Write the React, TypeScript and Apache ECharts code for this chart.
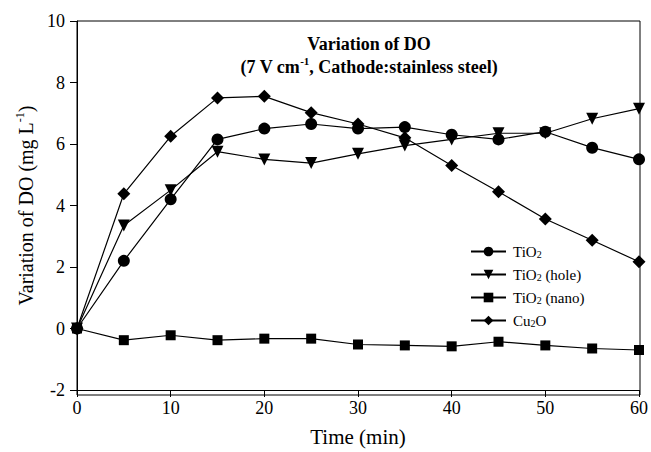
import React, { useEffect, useRef } from "react";
import * as echarts from "echarts";

const times = [0, 5, 10, 15, 20, 25, 30, 35, 40, 45, 50, 55, 60];
const tio2 = [0, 2.2, 4.2, 6.15, 6.5, 6.65, 6.5, 6.55, 6.3, 6.15, 6.4, 5.88, 5.5];
const tio2Hole = [0, 3.35, 4.5, 5.75, 5.5, 5.38, 5.68, 5.95, 6.15, 6.35, 6.35, 6.82, 7.15];
const tio2Nano = [0, -0.38, -0.22, -0.38, -0.33, -0.33, -0.52, -0.55, -0.58, -0.43, -0.55, -0.65, -0.7];
const cu2o = [0, 4.38, 6.25, 7.5, 7.55, 7.02, 6.65, 6.2, 5.3, 4.45, 3.56, 2.87, 2.17];

const seriesNames = ["TiO2", "TiO2 (hole)", "TiO2 (nano)", "Cu2O"];
const legendLabels = [
  "{n|TiO}{sub|2}",
  "{n|TiO}{sub|2}{n| (hole)}",
  "{n|TiO}{sub|2}{n| (nano)}",
  "{n|Cu}{sub|2}{n|O}",
];

const FONT = "'Liberation Serif', 'Times New Roman', serif";

export default function App() {
  const ref = useRef<HTMLDivElement>(null);
  useEffect(() => {
    if (!ref.current) return;
    const chart = echarts.init(ref.current, undefined, { renderer: "svg" });
    const mk = (vals: number[]) => times.map((t, i) => [t, vals[i]]);
    const baseSeries = (name: string, data: number[], symbol: string, size: number, rotate = 0) => ({
      name,
      type: "line",
      data: mk(data),
      symbol,
      symbolSize: size,
      symbolRotate: rotate,
      showAllSymbol: true,
      lineStyle: { color: "#000", width: 1.2 },
      itemStyle: { color: "#000" },
      z: 3,
    });
    chart.setOption({
      animation: false,
      backgroundColor: "#fff",
      textStyle: { fontFamily: FONT },
      title: {
        text: "{t|Variation of DO}\n{t|(7 V cm}{sup|-1}{t|, Cathode:stainless steel)}",
        left: 364,
        top: 27,
        textAlign: "center",
        textStyle: {
          fontFamily: FONT,
          fontWeight: "bold",
          fontSize: 18,
          color: "#000",
          lineHeight: 23,
          rich: {
            t: { fontFamily: FONT, fontWeight: "bold", fontSize: 18, color: "#000", lineHeight: 23 },
            sup: { fontFamily: FONT, fontWeight: "bold", fontSize: 11, verticalAlign: "top", lineHeight: 16, color: "#000" },
          },
        },
      },
      legend: {
        orient: "vertical",
        left: 465,
        top: 239,
        itemWidth: 35,
        itemHeight: 12,
        itemGap: 8,
        data: seriesNames,
        formatter: (name: string) => legendLabels[seriesNames.indexOf(name)],
        textStyle: {
          fontFamily: FONT,
          fontSize: 15,
          color: "#000",
          padding: [0, 0, 0, 2],
          rich: {
            n: { fontFamily: FONT, fontSize: 15, color: "#000", lineHeight: 15 },
            sub: { fontFamily: FONT, fontSize: 10, verticalAlign: "bottom", lineHeight: 8, padding: [5, 0, 0, 0], color: "#000" },
          },
        },
      },
      grid: { left: 77, right: 11, top: 21, bottom: 57, containLabel: false },
      xAxis: {
        type: "value",
        min: 0,
        max: 60,
        interval: 10,
        name: "Time (min)",
        nameLocation: "middle",
        nameGap: 36,
        nameTextStyle: { fontFamily: FONT, fontSize: 21, color: "#000" },
        axisLine: { show: true, onZero: false, lineStyle: { color: "#000", width: 1 } },
        axisTick: { show: true, inside: false, length: 7, lineStyle: { color: "#000" } },
        axisLabel: { fontFamily: FONT, fontSize: 18, color: "#000", margin: 9 },
        splitLine: { show: false },
      },
      yAxis: {
        type: "value",
        min: -2,
        max: 10,
        interval: 2,
        name: "{n|Variation of DO (mg L}{sup|-1}{n|)}",
        nameLocation: "middle",
        nameGap: 38,
        nameRotate: 90,
        nameTextStyle: {
          fontFamily: FONT,
          fontSize: 20,
          color: "#000",
          rich: {
            n: { fontFamily: FONT, fontSize: 20, color: "#000", lineHeight: 24 },
            sup: { fontFamily: FONT, fontSize: 12, verticalAlign: "top", lineHeight: 16, color: "#000" },
          },
        },
        axisLine: { show: true, onZero: false, lineStyle: { color: "#000", width: 1 } },
        axisTick: { show: true, inside: false, length: 7, lineStyle: { color: "#000" } },
        axisLabel: { fontFamily: FONT, fontSize: 18, color: "#000", margin: 12 },
        splitLine: { show: false },
      },
      graphic: [
        {
          type: "rect",
          shape: { x: 77, y: 21, width: 563, height: 374 },
          style: { fill: "none", stroke: "#000", lineWidth: 1 },
          silent: true,
          z: 0,
        },
      ],
      series: [
        baseSeries(seriesNames[0], tio2, "circle", 12),
        baseSeries(seriesNames[1], tio2Hole, "triangle", 12, 180),
        baseSeries(seriesNames[2], tio2Nano, "rect", 10),
        baseSeries(seriesNames[3], cu2o, "diamond", 13),
      ],
    });
    return () => chart.dispose();
  }, []);
  return <div ref={ref} style={{ width: 651, height: 452, position: "absolute", left: 0, top: 0 }} />;
}
